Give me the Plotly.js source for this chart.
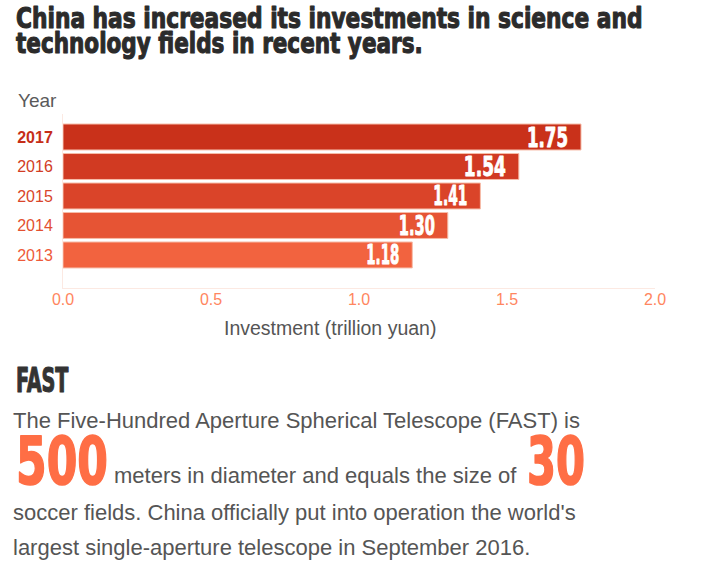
<!DOCTYPE html>
<html><head><meta charset="utf-8">
<script src="https://cdn.plot.ly/plotly-3.0.1.min.js"></script>
<style>html,body{margin:0;padding:0;background:#fff;}#chart{width:714px;height:586px;}</style>
</head><body><div id="chart"></div>
<script>
var years = ['2013','2014','2015','2016','2017'];
var investment = [1.18, 1.30, 1.41, 1.54, 1.75];
var barColors = ['#F2633F','#E65434','#DA4429','#D13A22','#C9311A'];
var tickColors = ['#EE5A3A','#E35030','#D9452A','#D23C24','#C62E18'];
var xTicks = [0, 0.5, 1.0, 1.5, 2.0];
var xTickText = ['0.0','0.5','1.0','1.5','2.0'];
var titleLines = ['China has increased its investments in science and', 'technology fields in recent years.'];
var yAxisLabel = 'Year';
var xAxisLabel = 'Investment (trillion yuan)';
var sectionHead = 'FAST';
var bodyLines = ['The Five-Hundred Aperture Spherical Telescope (FAST) is',
  'meters in diameter and equals the size of',
  "soccer fields. China officially put into operation the world's",
  'largest single-aperture telescope in September 2016.'];
var bigNumbers = ['500', '30'];

// ---- styling / layout ----
var W = 714, H = 586, L = 63, R = 655, T = 114, B = 288;
function px(x){ return (x - L) / (R - L); }
function py(y){ return (B - y) / (B - T); }
var heavy = "'DejaVu Sans Condensed', 'DejaVu Sans', sans-serif";
var body = "'Liberation Sans', Arial, sans-serif";
// horizontal squeeze targets (px) + stroke to emulate a heavy condensed display face
var barTextWidths = [33, 36, 34, 42, 41];
var barTextPadExtra = 10;

var yTickText = years.map(function(y, i){
  var t = '<span style="color:' + tickColors[i] + '">' + y + '</span>';
  return y === '2017' ? '<b>' + t + '</b>' : t;
});

var trace = {
  type: 'bar', orientation: 'h',
  y: years, x: investment,
  marker: {color: barColors, line: {color: '#F6BCA8', width: 1}},
  width: 0.88,
  texttemplate: '%{x:.2f}',
  textposition: 'inside', insidetextanchor: 'end', constraintext: 'none',
  textfont: {family: heavy, size: 27, color: '#ffffff', weight: 'bold'},
  hoverinfo: 'none'
};

var ann = [], squeezeW = [], strokeW = [];
function txt(x, y, text, size, color, family, weight, targetW, sw){
  ann.push({xref:'paper', yref:'paper', x:px(x), y:py(y), xanchor:'left', yanchor:'middle',
    text:text, showarrow:false, align:'left', borderpad:0,
    font:{size:size, color:color, family:family, weight: weight || 'normal'}});
  squeezeW.push(targetW || 0);
  strokeW.push(sw || 0);
}
txt(15, 18, titleLines[0], 29, '#2b2b2b', heavy, 'bold', 627, 1.1);
txt(15, 43, titleLines[1], 29, '#2b2b2b', heavy, 'bold', 407, 1.1);
txt(17, 100, yAxisLabel, 19, '#5a5a5a', body);
ann.push({xref:'paper', yref:'paper', x:px(330), y:py(328), xanchor:'center', yanchor:'middle',
  text:xAxisLabel, showarrow:false, borderpad:0, font:{size:19.5, color:'#555555', family:body}});
squeezeW.push(0); strokeW.push(0);
txt(15, 380, sectionHead, 33, '#333333', heavy, 'bold', 53, 1.1);
txt(12, 420, bodyLines[0], 22, '#555555', body);
txt(15, 461, bigNumbers[0], 66, '#FF6E45', heavy, 'bold', 92, 1.6);
txt(113, 475, bodyLines[1], 22, '#555555', body);
txt(526, 461, bigNumbers[1], 66, '#FF6E45', heavy, 'bold', 58, 1.6);
txt(12, 512, bodyLines[2], 22, '#555555', body);
txt(12, 547, bodyLines[3], 22, '#555555', body);

var layout = {
  width: W, height: H,
  margin: {l: L, r: W - R, t: T, b: H - B, pad: 0},
  paper_bgcolor: '#ffffff', plot_bgcolor: '#ffffff',
  showlegend: false,
  xaxis: {range: [0, 2], tickvals: xTicks, ticktext: xTickText, showgrid: false, zeroline: false,
    showline: true, linecolor: '#FCE9E2', linewidth: 1, ticks: '', ticklabelstandoff: -3,
    tickfont: {family: body, size: 16, color: '#FF8660'}},
  yaxis: {type: 'category', range: [-1.12, 4.78], tickvals: years, ticktext: yTickText,
    showgrid: false, zeroline: false, showline: true, linecolor: '#FCE9E2', linewidth: 1, ticks: '',
    ticklabelstandoff: 6,
    tickfont: {family: body, size: 16}},
  annotations: ann
};

function squeeze(el, targetW, pivotRight, shiftX){
  var bb = el.getBBox();
  if (!bb.width) return;
  var s = targetW / bb.width;
  var p = pivotRight ? bb.x + bb.width : bb.x;
  var t = el.getAttribute('transform') || '';
  el.setAttribute('transform', t + ' translate(' + (shiftX || 0) + ',0) translate(' + p + ',0) scale(' + s + ',1) translate(' + (-p) + ',0)');
}
function thicken(el, w){
  var c = el.style.fill || el.getAttribute('fill') || '#000';
  el.style.stroke = c;
  el.style.strokeWidth = w + 'px';
  el.style.strokeLinejoin = 'round';
}

Plotly.newPlot('chart', [trace], layout, {displayModeBar: false, staticPlot: true}).then(function(gd){
  gd.querySelectorAll('g.annotation').forEach(function(g){
    var i = +g.getAttribute('data-index');
    var el = g.querySelector('text.annotation-text');
    if (!el) return;
    if (squeezeW[i]) squeeze(el, squeezeW[i], false, 0);
    if (strokeW[i]) thicken(el, strokeW[i]);
  });
  var pts = gd.querySelectorAll('.barlayer .trace .point');
  pts.forEach(function(p, i){
    var el = p.querySelector('text.bartext');
    if (!el) return;
    squeeze(el, barTextWidths[i], true, -barTextPadExtra);
    thicken(el, 0.9);
  });
});
</script></body></html>
